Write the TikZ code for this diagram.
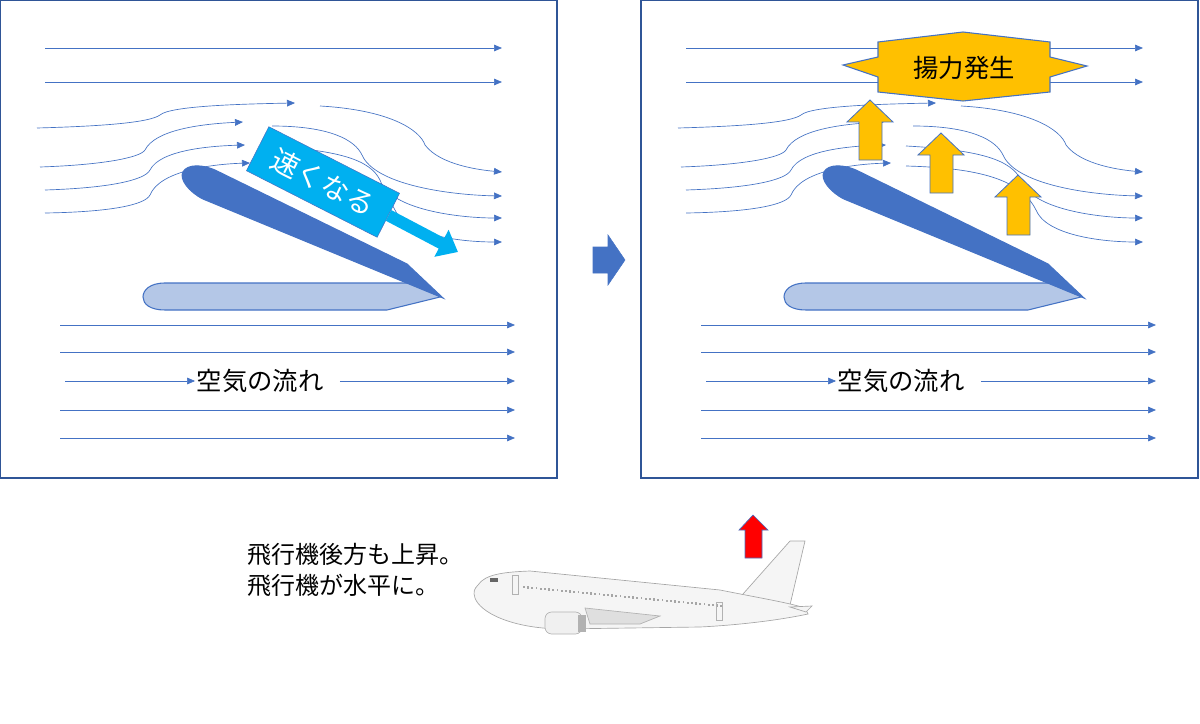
\documentclass[tikz,border=0pt]{standalone}
\usepackage{fontspec}
\newfontfamily\jpfont{Noto Sans CJK JP}
\usetikzlibrary{arrows.meta}
\definecolor{flowblue}{RGB}{68,114,196}
\definecolor{frameblue}{RGB}{47,85,151}
\definecolor{paleblue}{RGB}{180,199,231}
\definecolor{calloutcyan}{RGB}{0,176,240}
\definecolor{liftorange}{RGB}{255,192,0}
\tikzset{
  flow/.style={draw=flowblue, line width=0.5pt, -{Triangle[length=6pt,width=5pt]}},
  panel/.style={draw=frameblue, line width=0.8pt, fill=white},
  label/.style={font=\jpfont\fontsize{19}{19}\selectfont, inner sep=1pt}
}
\newcommand{\liftarrow}[2]{% tip x, tip y
  \draw[draw=flowblue, fill=liftorange, line width=0.6pt] (#1,#2) -- (#1+23,#2+22) -- (#1+12,#2+22) -- (#1+12,#2+60) -- (#1-11,#2+60) -- (#1-11,#2+22) -- (#1-23,#2+22) -- cycle;}
\begin{document}
\begin{tikzpicture}[x=0.75pt,y=0.75pt,yscale=-1,xscale=1]
\useasboundingbox (0,0) rectangle (1200,724);

% panels, streamlines and wings
\foreach \dx in {0,641}{
\begin{scope}[shift={(\dx,0)}]
\draw[panel] (0,0) rectangle (557,478);
%Straight Lines
\draw[flow] (45,48) -- (502,48);
\draw[flow] (45,82) -- (502,82);
%Curve Lines
\draw[flow] (37,128) .. controls (110,126) and (150,122) .. (160,115) .. controls (170,106) and (240,104) .. (295,103);
\draw[flow] (40,167) .. controls (100,165) and (140,158) .. (145,150) .. controls (155,130) and (200,124) .. (243,122);
\draw[flow] (45,190) .. controls (110,188) and (145,180) .. (150,170) .. controls (160,150) and (210,146) .. (245,145);
\draw[flow] (45,213) .. controls (110,212) and (145,205) .. (150,195) .. controls (160,170) and (215,164) .. (250,163);
\draw[flow] (320,106) .. controls (390,110) and (420,130) .. (425,145) .. controls (440,165) and (480,170) .. (502,172);
\draw[flow] (272,126) .. controls (330,126) and (355,140) .. (362,155) .. controls (375,185) and (450,195) .. (502,196);
\draw[flow] (265,146) .. controls (340,150) and (370,160) .. (380,180) .. controls (390,210) and (460,218) .. (502,218);
\draw[flow] (265,166) .. controls (340,168) and (380,180) .. (395,210) .. controls (405,235) and (460,242) .. (502,242);
%Shape: pale wing
\draw[draw=flowblue, fill=paleblue, line width=0.8pt] (165,283) -- (425,283) -- (440,297) -- (387,310) -- (165,310) .. controls (150,310) and (143,304) .. (143,297) .. controls (143,290) and (150,283) .. (165,283) -- cycle;
%Shape: tilted wing
\draw[draw=flowblue, fill=flowblue, line width=0.8pt] (217,171) -- (407,264) -- (443,298) -- (203,199) .. controls (189,192) and (179,179) .. (183,172) .. controls (187,164) and (203,164) .. (217,171) -- cycle;
%Straight Lines
\draw[flow] (60,325) -- (515,325);
\draw[flow] (60,352) -- (515,352);
\node[label] (air\dx) at (260,381) {空気の流れ};
\draw[flow] (65,381) -- (air\dx.west);
\draw[flow] (air\dx.east) ++(15,0) -- (515,381);
\draw[flow] (60,410) -- (515,410);
\draw[flow] (60,438) -- (515,438);
\end{scope}}

% callout
\node[draw=flowblue, fill=calloutcyan, rotate=-27, minimum width=110pt, minimum height=37pt, font=\jpfont\fontsize{21}{21}\selectfont, text=white] (fast) at (323,182) {速くなる};
\coordinate (fasttip) at (458,252);
\draw[calloutcyan, line width=9pt, -{Triangle[length=14pt,width=22pt]}] (fast.east) -- (fasttip);

% middle arrow
\draw[draw=flowblue, fill=flowblue] (593,247) -- (608,247) -- (608,235) -- (625,260) -- (608,285) -- (608,273) -- (593,273) -- cycle;

% lift
\draw[draw=flowblue, fill=liftorange, line width=0.8pt] (843,65) -- (878,57) -- (878,42) -- (963,32) -- (1050,42) -- (1050,57) -- (1087,66) -- (1050,77) -- (1050,92) -- (963,101) -- (878,92) -- (878,77) -- cycle;
\node[label] (lift) at (964,68) {揚力発生};
\liftarrow{870}{100}
\liftarrow{941}{133}
\liftarrow{1018}{175}

% airplane
\draw[gray!70, fill=gray!8, line width=0.5pt] (735,603) -- (790,541) -- (805,541) -- (790,605) -- cycle;
\draw[gray!70, fill=gray!8, line width=0.5pt] (478,585) .. controls (485,574) and (505,572) .. (530,571) -- (720,590) .. controls (760,598) and (790,603) .. (805,608) -- (808,614) .. controls (780,620) and (740,625) .. (700,627) -- (560,629) .. controls (510,628) and (480,612) .. (475,598) .. controls (473,592) and (474,589) .. (478,585) -- cycle;
\draw[gray!70, fill=gray!8, line width=0.5pt] (790,607) -- (812,606) -- (806,612) -- cycle;
\draw[gray!60, fill=gray!25, line width=0.5pt] (585,608) -- (660,616) -- (640,624) -- (590,624) -- cycle;
\draw[gray!60, fill=gray!12, line width=0.5pt, rounded corners=5pt] (545,612) rectangle (582,634);
\fill[gray!60] (578,615) rectangle (586,632);
\foreach \k in {0,...,47} \fill[gray!70] (523+\k*4.2,586+\k*0.4) rectangle ++(1.8,2.2);
\fill[gray!80!black] (490,578) rectangle (498,582);
\draw[gray!60] (512,575) rectangle (518,594);
\draw[gray!60] (716,602) rectangle (722,620);

% red arrow
\draw[draw=flowblue, fill=red, line width=0.5pt] (753,515) -- (768,530) -- (762,530) -- (762,558) -- (745,558) -- (745,530) -- (739,530) -- cycle;

% Text Node
\node[anchor=west, align=left, font=\jpfont\fontsize{18}{23}\selectfont, inner sep=0pt] (note) at (247,570) {飛行機後方も上昇。\\飛行機が水平に。};
\end{tikzpicture}
\end{document}
